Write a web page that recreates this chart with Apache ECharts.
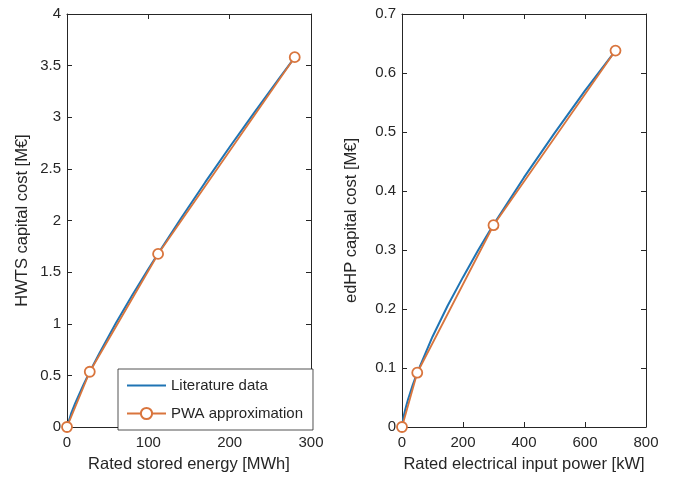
<!DOCTYPE html>
<html>
<head>
<meta charset="utf-8">
<script src="https://cdn.jsdelivr.net/npm/echarts@6/dist/echarts.min.js"></script>
<style>html,body{margin:0;padding:0;background:#fff}#c{width:680px;height:478px}</style>
</head>
<body>
<div id="c"></div>
<script>
// Left panel: hot water thermal storage (HWTS)
const hwtsLitX = [0, 5, 10, 20, 28, 40, 60, 80, 100, 112, 140, 170, 200, 230, 260, 280];
const hwtsLitY = [0, 0.129, 0.229, 0.405, 0.535, 0.718, 1.004, 1.273, 1.530, 1.680, 2.020, 2.371, 2.712, 3.043, 3.368, 3.580];
const hwtsPwaX = [0, 28, 112, 280];
const hwtsPwaY = [0, 0.535, 1.676, 3.582];
// Right panel: electrically driven heat pump (edHP)
const hpLitX = [0, 5, 10, 14, 20, 35, 50, 100, 150, 200, 250, 300, 400, 500, 600, 700];
const hpLitY = [0, 0.017, 0.028, 0.036, 0.047, 0.071, 0.092, 0.153, 0.206, 0.254, 0.300, 0.343, 0.423, 0.498, 0.570, 0.638];
const hpPwaX = [0, 50, 300, 700];
const hpPwaY = [0, 0.092, 0.342, 0.638];

const seriesNames = ['Literature data', 'PWA approximation'];
const xTitles = ['Rated stored energy [MWh]', 'Rated electrical input power [kW]'];
const yTitles = ['HWTS capital cost [M\u20ac]', 'edHP capital cost [M\u20ac]'];

const zip = (xs, ys) => xs.map((x, i) => [x, ys[i]]);
const FONT = "'Liberation Sans', Arial, Helvetica, sans-serif";
const AX = '#262626';
const BLUE = '#1f74b4', ORANGE = '#d9753d';

function xAx(grid, max, interval, name, top) {
  return {
    type: 'value', gridIndex: grid, min: 0, max: max, interval: interval,
    position: top ? 'top' : 'bottom',
    name: top ? '' : name, nameLocation: 'middle', nameGap: 29,
    nameTextStyle: {fontFamily: FONT, fontSize: 16.5, color: AX},
    axisLine: {show: true, onZero: false, lineStyle: {color: AX, width: 1}},
    axisTick: {show: true, inside: true, length: 5, lineStyle: {color: AX}},
    axisLabel: {show: !top, margin: 8, fontFamily: FONT, fontSize: 15, color: AX},
    splitLine: {show: false}
  };
}
function yAx(grid, max, interval, name, gap, right) {
  return {
    type: 'value', gridIndex: grid, min: 0, max: max, interval: interval,
    position: right ? 'right' : 'left',
    name: right ? '' : name, nameLocation: 'middle', nameGap: gap,
    nameTextStyle: {fontFamily: FONT, fontSize: 16.5, color: AX},
    axisLine: {show: true, onZero: false, lineStyle: {color: AX, width: 1}},
    axisTick: {show: true, inside: true, length: 5, lineStyle: {color: AX}},
    axisLabel: {show: !right, margin: 6, fontFamily: FONT, fontSize: 15, color: AX},
    splitLine: {show: false}
  };
}
function litSeries(xi, yi, data) {
  return {name: seriesNames[0], type: 'line', xAxisIndex: xi, yAxisIndex: yi, data: data,
    showSymbol: false, symbol: 'none', lineStyle: {color: BLUE, width: 2}, itemStyle: {color: BLUE},
    animation: false, z: 2};
}
function pwaSeries(xi, yi, data) {
  return {name: seriesNames[1], type: 'line', xAxisIndex: xi, yAxisIndex: yi, data: data,
    symbol: 'circle', symbolSize: 10, showSymbol: true,
    lineStyle: {color: ORANGE, width: 1.8},
    itemStyle: {color: '#ffffff', borderColor: ORANGE, borderWidth: 1.8},
    animation: false, z: 3};
}

const chart = echarts.init(document.getElementById('c'), null, {renderer: 'canvas'});
chart.setOption({
  backgroundColor: '#ffffff',
  animation: false,
  textStyle: {fontFamily: FONT},
  grid: [
    {left: 67, top: 14, width: 244, height: 415},
    {left: 402, top: 14, width: 244, height: 415}
  ],
  xAxis: [
    xAx(0, 300, 100, xTitles[0], false),
    xAx(0, 300, 100, '', true),
    xAx(1, 800, 200, xTitles[1], false),
    xAx(1, 800, 200, '', true)
  ],
  yAxis: [
    yAx(0, 4, 0.5, yTitles[0], 36, false),
    yAx(0, 4, 0.5, '', 0, true),
    yAx(1, 0.7, 0.1, yTitles[1], 42, false),
    yAx(1, 0.7, 0.1, '', 0, true)
  ],
  legend: {
    data: [
      {name: seriesNames[0], itemStyle: {opacity: 0}},
      {name: seriesNames[1]}
    ],
    orient: 'vertical', left: 118, top: 369,
    padding: [9, 10, 9, 8], itemGap: 13, itemWidth: 39, itemHeight: 14,
    backgroundColor: '#ffffff', borderColor: AX, borderWidth: 0.8,
    textStyle: {fontFamily: FONT, fontSize: 15, color: AX},
    selectedMode: false
  },
  series: [
    litSeries(0, 0, zip(hwtsLitX, hwtsLitY)),
    pwaSeries(0, 0, zip(hwtsPwaX, hwtsPwaY)),
    litSeries(2, 2, zip(hpLitX, hpLitY)),
    pwaSeries(2, 2, zip(hpPwaX, hpPwaY))
  ]
});
</script>
</body>
</html>
